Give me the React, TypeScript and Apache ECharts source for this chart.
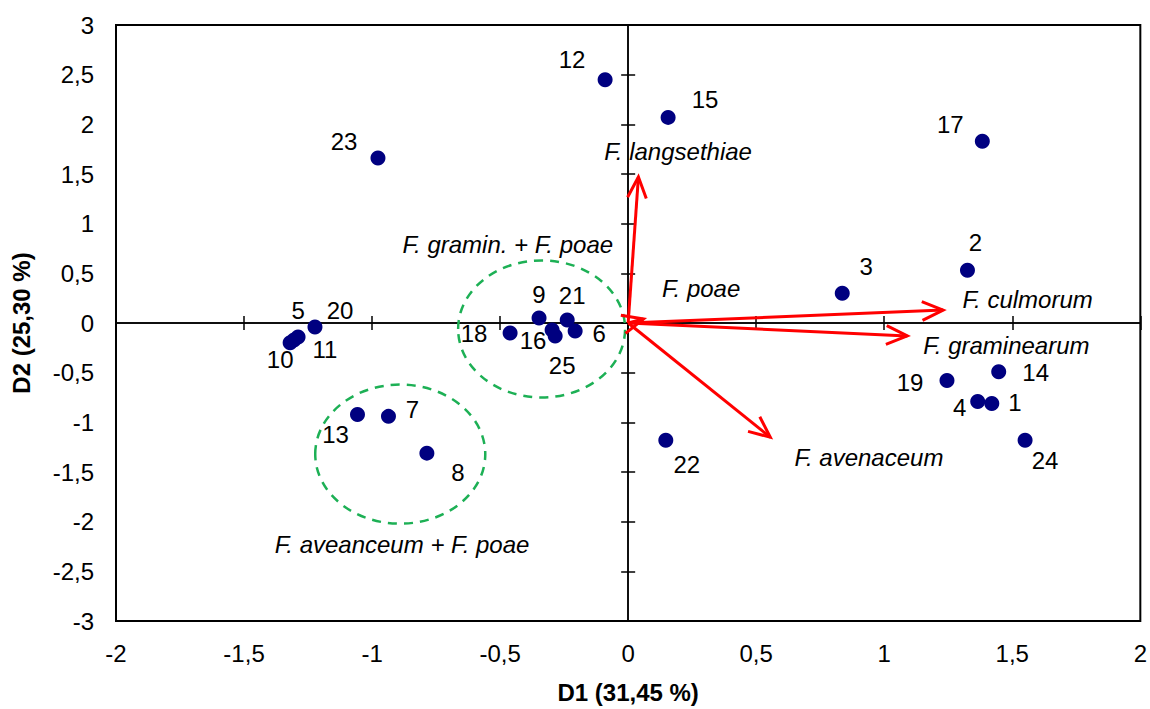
import React, { useEffect, useRef } from "react";
import * as echarts from "echarts";

// Observations (scores on D1 / D2)
const pointIds = ["1","2","3","4","5","6","7","8","9","10","11","12","13","14","15","16","17","18","19","20","21","22","23","24","25"];
const pointD1 = [1.42, 1.325, 0.836, 1.365, -1.289, -0.207, -0.936, -0.786, -0.348, -1.32, -1.305, -0.09, -1.057, 1.447, 0.156, -0.297, 1.383, -0.461, 1.245, -1.223, -0.238, 0.147, -0.977, 1.55, -0.285];
const pointD2 = [-0.81, 0.53, 0.30, -0.79, -0.14, -0.08, -0.94, -1.31, 0.05, -0.20, -0.17, 2.45, -0.92, -0.49, 2.07, -0.07, 1.83, -0.10, -0.58, -0.04, 0.03, -1.18, 1.66, -1.18, -0.13];

// Variables (loading vectors)
const vectorNames = ["F. langsethiae", "F. poae", "F. culmorum", "F. graminearum", "F. avenaceum"];
const vectorD1 = [0.04, 0.06, 1.23, 1.09, 0.555];
const vectorD2 = [1.47, 0.04, 0.13, -0.13, -1.15];

// Groups (ellipses)
const groupNames = ["F. gramin. + F. poae", "F. aveanceum + F. poae"];
const groupCD1 = [-0.338, -0.89];
const groupCD2 = [-0.06, -1.32];
const groupRD1 = [0.326, 0.332];
const groupRD2 = [0.69, 0.70];

// Axis ranges
const xMin = -2, xMax = 2, yMin = -3, yMax = 3, step = 0.5;
const xTitle = "D1 (31,45 %)";
const yTitle = "D2 (25,30 %)";

// Layout: label offsets (px) for observation labels
const pointLabelOffsets: number[][] = [
  [23, -1], [8, -28], [24, -27], [-18, 6], [0, -26], [24, 3], [24, -7], [31, 19], [0, -24], [-10, 17],
  [31, 10], [-33, -20], [-22, 20], [37, 1], [37, -18], [-19, 11], [-32, -17], [-36, 1], [-37, 2], [25, -16],
  [5, -25], [21, 24], [-34, -17], [20, 20], [7, 30],
];
// Layout: anchor of the italic annotation texts (data coords)
const vectorLabelAnchors: number[][] = [[0.195, 1.73], [0.285, 0.35], [1.56, 0.24], [1.477, -0.23], [0.94, -1.35]];
const groupLabelAnchors: number[][] = [[-0.47, 0.79], [-0.883, -2.23]];

const FONT = "'Liberation Sans', Arial, sans-serif";
const fmt = (v: number) => String(v).replace(".", ",");

export default function App() {
  const ref = useRef<HTMLDivElement>(null);
  useEffect(() => {
    if (!ref.current) return;
    const chart = echarts.init(ref.current, null, { renderer: "svg" });

    const baseX = { type: "value", min: xMin, max: xMax, interval: step, splitLine: { show: false } };
    const baseY = { type: "value", min: yMin, max: yMax, interval: step, splitLine: { show: false } };
    const crossLine = { onZero: true, onZeroAxisIndex: 0, lineStyle: { color: "#000", width: 1.5 } };
    const crossTick = { show: true, length: 7, lineStyle: { color: "#000", width: 1.5 } };

    const annotations = [
      ...vectorNames.map((n, i) => ({ value: vectorLabelAnchors[i], name: n })),
      ...groupNames.map((n, i) => ({ value: groupLabelAnchors[i], name: n })),
    ];

    chart.setOption({
      animation: false,
      backgroundColor: "#fff",
      textStyle: { fontFamily: FONT },
      grid: {
        left: 116, right: 9, top: 25, bottom: 84,
        show: true, borderColor: "#000", borderWidth: 2, backgroundColor: "transparent",
      },
      xAxis: [
        {
          ...baseX, position: "bottom",
          axisLine: { show: false, onZero: false },
          axisTick: { show: false },
          axisLabel: { show: true, color: "#000", fontSize: 24, margin: 20, fontFamily: FONT, formatter: fmt },
          name: xTitle, nameLocation: "middle", nameGap: 59,
          nameTextStyle: { color: "#000", fontSize: 24, fontWeight: "bold", fontFamily: FONT },
        },
        { ...baseX, position: "bottom", axisLine: crossLine, axisTick: crossTick, axisLabel: { show: false } },
        { ...baseX, position: "top", axisLine: crossLine, axisTick: crossTick, axisLabel: { show: false } },
      ],
      yAxis: [
        {
          ...baseY, position: "left",
          axisLine: { show: false, onZero: false },
          axisTick: { show: false },
          axisLabel: { show: true, color: "#000", fontSize: 24, margin: 22, fontFamily: FONT, formatter: fmt },
          name: yTitle, nameLocation: "middle", nameGap: 83, nameRotate: 90,
          nameTextStyle: { color: "#000", fontSize: 24, fontWeight: "bold", fontFamily: FONT },
        },
        { ...baseY, position: "left", axisLine: crossLine, axisTick: crossTick, axisLabel: { show: false } },
        { ...baseY, position: "right", axisLine: crossLine, axisTick: crossTick, axisLabel: { show: false } },
      ],
      series: [
        {
          type: "custom",
          name: "groups",
          silent: true,
          data: groupNames.map((_, i) => [groupCD1[i], groupCD2[i], groupRD1[i], groupRD2[i]]),
          encode: { x: 0, y: 1 },
          renderItem: (params: any, api: any) => {
            const c = api.coord([api.value(0), api.value(1)]);
            const s = api.size([api.value(2), api.value(3)]);
            return {
              type: "ellipse",
              shape: { cx: c[0], cy: c[1], rx: s[0], ry: s[1] },
              style: { fill: "none", stroke: "#1db055", lineWidth: 2.5, lineDash: [9, 7] },
            };
          },
          z: 3,
        },
        {
          type: "custom",
          name: "vectors",
          silent: true,
          data: vectorNames.map((_, i) => [vectorD1[i], vectorD2[i]]),
          encode: { x: 0, y: 1 },
          renderItem: (params: any, api: any) => {
            const o = api.coord([0, 0]);
            const t = api.coord([api.value(0), api.value(1)]);
            const ang = Math.atan2(t[1] - o[1], t[0] - o[0]);
            const L = 23, a = 0.42;
            const p1 = [t[0] - L * Math.cos(ang - a), t[1] - L * Math.sin(ang - a)];
            const p2 = [t[0] - L * Math.cos(ang + a), t[1] - L * Math.sin(ang + a)];
            return {
              type: "group",
              children: [
                { type: "line", shape: { x1: o[0], y1: o[1], x2: t[0], y2: t[1] }, style: { stroke: "#ff0000", lineWidth: 3 } },
                { type: "polyline", shape: { points: [p1, t, p2] }, style: { stroke: "#ff0000", lineWidth: 3, fill: null } },
              ],
            };
          },
          z: 4,
        },
        {
          type: "scatter",
          name: "observations",
          symbol: "circle",
          symbolSize: 15,
          itemStyle: { color: "#000080", opacity: 1 },
          data: pointIds.map((id, i) => ({
            value: [pointD1[i], pointD2[i]],
            name: id,
            label: { offset: pointLabelOffsets[i] },
          })),
          label: {
            show: true, position: "inside", formatter: "{b}",
            color: "#000", opacity: 1, fontSize: 24, fontFamily: FONT,
          },
          z: 5,
        },
        {
          type: "scatter",
          name: "annotations",
          silent: true,
          symbolSize: 1,
          itemStyle: { color: "rgba(0,0,0,0)", opacity: 1 },
          data: annotations,
          label: {
            show: true, position: "inside", formatter: "{b}",
            color: "#000", opacity: 1, fontSize: 24, fontStyle: "italic", fontFamily: FONT,
          },
          z: 6,
        },
      ],
    });
    return () => chart.dispose();
  }, []);
  return <div ref={ref} style={{ position: "fixed", left: 0, top: 0, width: 1150, height: 709 }} />;
}
